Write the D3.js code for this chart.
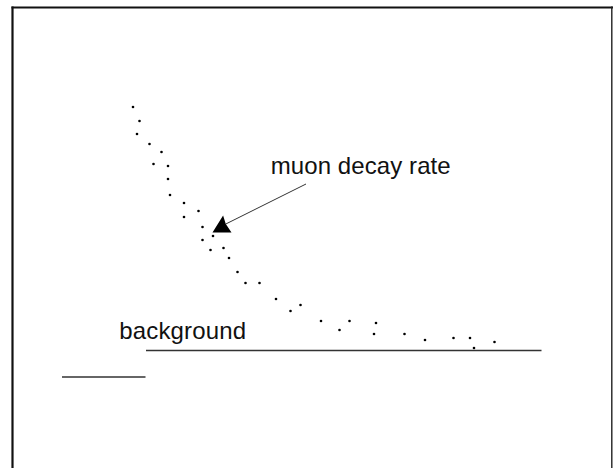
<!DOCTYPE html>
<html>
<head>
<meta charset="utf-8">
<script src="https://cdn.jsdelivr.net/npm/d3@7"></script>
<style>
  html, body { margin: 0; padding: 0; background: #fff; }
  svg { display: block; }
</style>
</head>
<body>
<svg id="chart" width="613" height="468"></svg>
<script>
// Decay time (microseconds) and counts
const times = [2.40, 2.53, 2.48, 2.73, 2.97, 2.81, 3.10, 3.10, 3.14, 3.42, 3.71, 3.42,
  3.79, 4.00, 3.79, 4.21, 3.95, 4.32, 4.49, 4.65, 4.93, 5.26, 5.55, 5.75, 6.16, 6.53,
  6.73, 7.26, 7.22, 7.83, 8.24, 8.81, 9.14, 9.22, 9.63];
const counts = [361, 347, 334, 324, 316, 304, 302, 289, 273, 265, 257, 251,
  241, 232, 228, 220, 218, 210, 196, 185, 185, 169, 157, 163, 147, 138,
  147, 145, 134, 134, 128, 130, 130, 120, 126];
// background level segments [xStart, xEnd, level]
const backgroundSegments = [[2.66, 10.57, 117.5], [0.98, 2.65, 91]];
const labels = ["muon decay rate", "background"];

const svg = d3.select("#chart");
const x = d3.scaleLinear().domain([0, 12]).range([13, 613]);
const y = d3.scaleLinear().domain([0, 460]).range([468, 8]);

// frame
svg.append("line").attr("x1", 11.5).attr("x2", 613).attr("y1", 7.5).attr("y2", 7.5)
  .attr("stroke", "#111").attr("stroke-width", 2.2);
svg.append("line").attr("x1", 12.5).attr("x2", 12.5).attr("y1", 6.5).attr("y2", 468)
  .attr("stroke", "#111").attr("stroke-width", 2.2);
svg.append("line").attr("x1", 611.8).attr("x2", 611.8).attr("y1", 6.5).attr("y2", 468)
  .attr("stroke", "#222").attr("stroke-width", 1.4);

// background lines
svg.selectAll("line.bg").data(backgroundSegments).enter().append("line")
  .attr("class", "bg")
  .attr("x1", d => x(d[0])).attr("x2", d => x(d[1]))
  .attr("y1", d => y(d[2])).attr("y2", d => y(d[2]))
  .attr("stroke", "#333").attr("stroke-width", 1.4);

// data dots
const pts = times.map((t, i) => [t, counts[i]]);
svg.selectAll("circle.pt").data(pts).enter().append("circle")
  .attr("class", "pt")
  .attr("cx", d => x(d[0])).attr("cy", d => y(d[1]))
  .attr("r", 1.3).attr("fill", "#000");

// annotation arrow
const tip = [x(3.99), y(235.5)];
const notch = [tip[0] + 13.3, tip[1] - 8.5];
const tail = [tip[0] + 93.5, tip[1] - 48.5];
svg.append("line").attr("x1", notch[0]).attr("y1", notch[1]).attr("x2", tail[0]).attr("y2", tail[1])
  .attr("stroke", "#333").attr("stroke-width", 1);
svg.append("path")
  .attr("d", `M${tip[0]},${tip[1]} L${tip[0] + 10.6},${tip[1] - 17} L${notch[0]},${notch[1]} L${tip[0] + 19},${tip[1]} Z`)
  .attr("fill", "#000");

// labels
svg.append("text").attr("x", 270.7).attr("y", 174.3)
  .attr("font-family", "Liberation Sans, Arial, Helvetica, sans-serif")
  .attr("font-size", 24).attr("textLength", 180).attr("fill", "#111")
  .text(labels[0]);
svg.append("text").attr("x", 119.3).attr("y", 339.3)
  .attr("font-family", "Liberation Sans, Arial, Helvetica, sans-serif")
  .attr("font-size", 24).attr("textLength", 126.7).attr("fill", "#111")
  .text(labels[1]);
</script>
</body>
</html>
